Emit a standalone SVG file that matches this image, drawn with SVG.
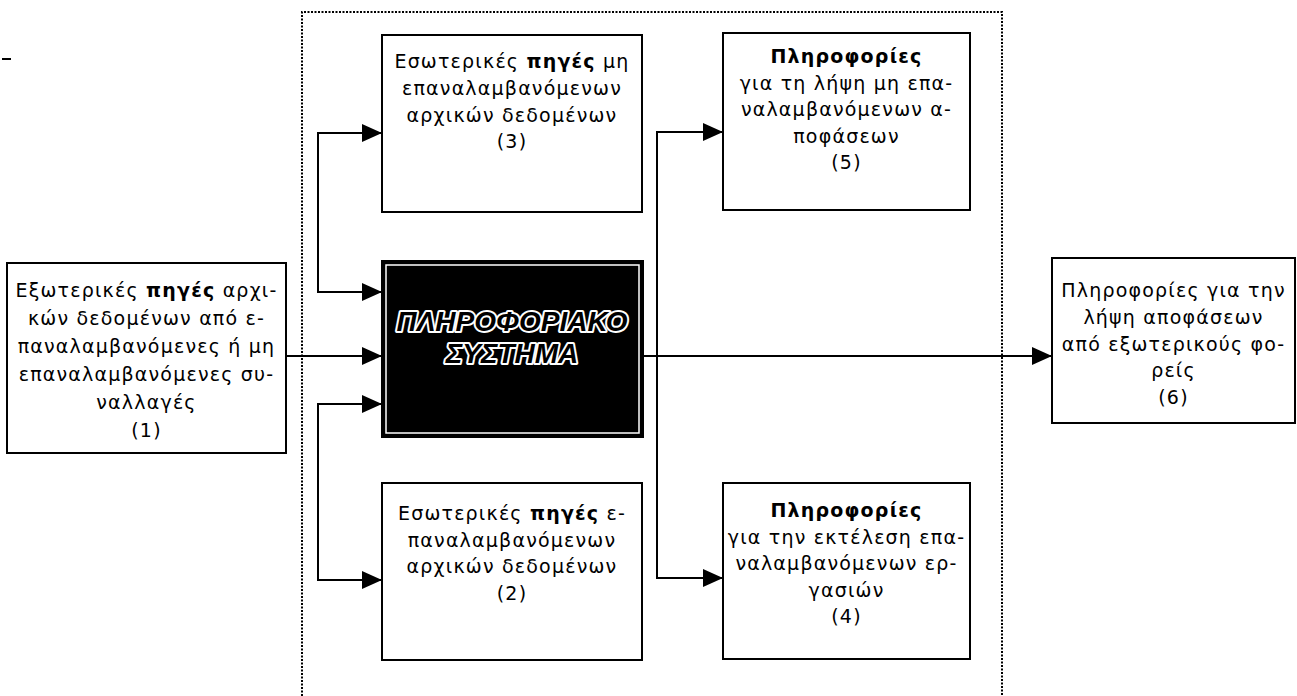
<svg xmlns="http://www.w3.org/2000/svg" width="1297" height="696" viewBox="0 0 1297 696">
<style>
.box{fill:#fff;stroke:#000;stroke-width:2}
.t{font-family:"DejaVu Sans","Liberation Sans",sans-serif;font-size:19px;letter-spacing:1.2px;fill:#000;text-anchor:middle}
.b{font-weight:bold}
.c{fill:none;stroke:#000;stroke-width:2}
.frame{fill:none;stroke:#000;stroke-width:2;stroke-dasharray:2 1.5}
.core{font-family:"Liberation Sans",Arial,sans-serif;font-size:28px;font-weight:bold;font-style:italic;fill:#000;stroke:#fff;stroke-width:4;paint-order:stroke;stroke-linejoin:round;text-anchor:middle}
</style>
<defs>
<marker id="ah" markerUnits="userSpaceOnUse" markerWidth="20" markerHeight="18" refX="20" refY="9" orient="auto-start-reverse"><path d="M0,0 L20,9 L0,18 z" fill="#000"/></marker>
</defs>
<rect x="2" y="58" width="9" height="2" fill="#000"/>
<path class="frame" d="M302,696 V12 H1002 V696"/>
<g id="connectors">
<path class="c" d="M286,356 H382" marker-end="url(#ah)"/>
<path class="c" d="M382,133 H318 V292 H382" marker-start="url(#ah)" marker-end="url(#ah)"/>
<path class="c" d="M382,404 H318 V580 H382" marker-start="url(#ah)" marker-end="url(#ah)"/>
<path class="c" d="M643,356 H1052" marker-end="url(#ah)"/>
<path class="c" d="M723,132 H657 V578 H723" marker-start="url(#ah)" marker-end="url(#ah)"/>
</g>
<g id="n1">
<rect class="box" x="7" y="263" width="279" height="190"/>
<text class="t" x="146.5" y="297">Εξωτερικές <tspan class="b">πηγές</tspan> αρχι-</text>
<text class="t" x="146.5" y="325">κών δεδομένων από ε-</text>
<text class="t" x="146.5" y="353">παναλαμβανόμενες ή μη</text>
<text class="t" x="146.5" y="381">επαναλαμβανόμενες συ-</text>
<text class="t" x="146.5" y="409">ναλλαγές</text>
<text class="t" x="146.5" y="437">(1)</text>
</g>
<g id="n3">
<rect class="box" x="382" y="35" width="260" height="177"/>
<text class="t" x="512" y="68">Εσωτερικές <tspan class="b">πηγές</tspan> μη</text>
<text class="t" x="512" y="95">επαναλαμβανόμενων</text>
<text class="t" x="512" y="122">αρχικών δεδομένων</text>
<text class="t" x="512" y="148">(3)</text>
</g>
<g id="core">
<rect x="382" y="261" width="261" height="176" fill="#000" stroke="#000" stroke-width="2"/>
<rect x="386" y="265" width="253" height="168" fill="none" stroke="#fff" stroke-width="1.5"/>
<text class="core" x="512" y="331">ΠΛΗΡΟΦΟΡΙΑΚΟ</text>
<text class="core" x="512" y="363">ΣΥΣΤΗΜΑ</text>
</g>
<g id="n2">
<rect class="box" x="382" y="483" width="260" height="177"/>
<text class="t" x="512" y="520">Εσωτερικές <tspan class="b">πηγές</tspan> ε-</text>
<text class="t" x="512" y="547">παναλαμβανόμενων</text>
<text class="t" x="512" y="573">αρχικών δεδομένων</text>
<text class="t" x="512" y="600">(2)</text>
</g>
<g id="n5">
<rect class="box" x="723" y="33" width="247" height="177"/>
<text class="t b" x="846.5" y="63">Πληροφορίες</text>
<text class="t" x="846.5" y="90">για τη λήψη μη επα-</text>
<text class="t" x="846.5" y="116">ναλαμβανόμενων α-</text>
<text class="t" x="846.5" y="143">ποφάσεων</text>
<text class="t" x="846.5" y="169">(5)</text>
</g>
<g id="n4">
<rect class="box" x="723" y="483" width="247" height="176"/>
<text class="t b" x="846.5" y="517">Πληροφορίες</text>
<text class="t" x="846.5" y="544">για την εκτέλεση επα-</text>
<text class="t" x="846.5" y="570">ναλαμβανόμενων ερ-</text>
<text class="t" x="846.5" y="597">γασιών</text>
<text class="t" x="846.5" y="623">(4)</text>
</g>
<g id="n6">
<rect class="box" x="1052" y="258" width="243" height="165"/>
<text class="t" x="1173.5" y="297">Πληροφορίες για την</text>
<text class="t" x="1173.5" y="324">λήψη αποφάσεων</text>
<text class="t" x="1173.5" y="351">από εξωτερικούς φο-</text>
<text class="t" x="1173.5" y="377">ρείς</text>
<text class="t" x="1173.5" y="404">(6)</text>
</g>
</svg>
